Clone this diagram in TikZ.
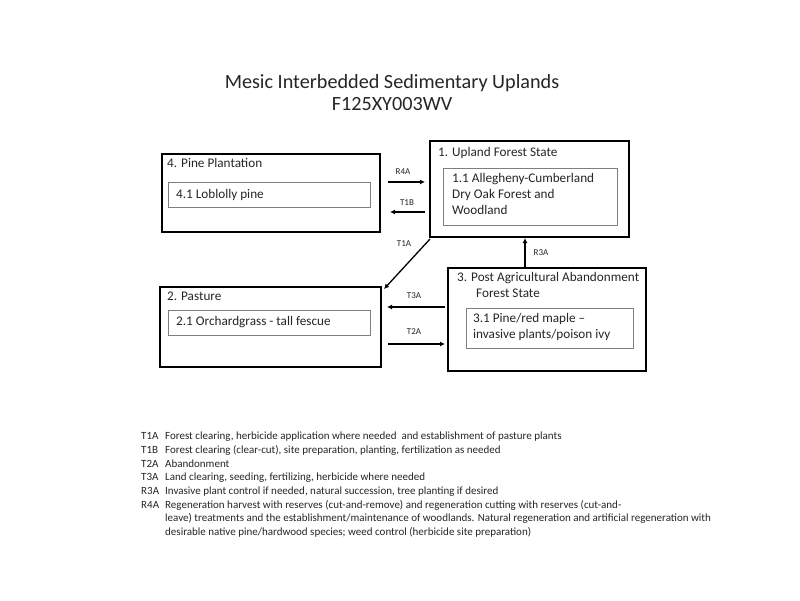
\documentclass[tikz,border=0pt]{standalone}
\usepackage{fontspec}
\setmainfont{Carlito}
\usetikzlibrary{arrows.meta}
\definecolor{txt}{HTML}{262626}
\definecolor{inner}{HTML}{7F7F7F}
\begin{document}
\begin{tikzpicture}[x=1pt,y=-1pt,
  outerbox/.style={draw=black,line width=2pt,rectangle,anchor=north west,inner sep=0pt},
  innerbox/.style={draw=inner,line width=0.9pt,rectangle,anchor=north west,inner sep=0pt},
  boxtitle/.style={anchor=west,inner sep=0pt,text=txt,font=\fontsize{13.2}{16}\selectfont,align=left},
  innertext/.style={anchor=north west,inner sep=0pt,text=txt,font=\fontsize{13.2}{16}\selectfont,align=left},
  arr/.style={line width=1.3pt,-{Latex[length=5pt,width=5pt]}},
  arrlbl/.style={inner sep=0pt,text=txt,font=\fontsize{9}{11}\selectfont}]
\useasboundingbox[fill=white] (0,0) rectangle (800,600);
% title
\node[text=txt,font=\fontsize{20.2}{22.5}\selectfont,align=center] (title) at (392,92.5) {Mesic Interbedded Sedimentary Uplands\\F125XY003WV};
% box 4
\node[outerbox,minimum width=218pt,minimum height=78pt] (b4) at (161,153) {};
\node[boxtitle] (t4) at (167,163) {4. Pine Plantation};
\node[innerbox,minimum width=202pt,minimum height=25pt] (i4) at (168,182) {};
\node[innertext,anchor=west] (it4) at (176,194.5) {4.1 Loblolly pine};
% box 1
\node[outerbox,minimum width=199pt,minimum height=96pt] (b1) at (429,140) {};
\node[boxtitle] (t1) at (438,153) {1. Upland Forest State};
\node[innerbox,minimum width=174pt,minimum height=57pt] (i1) at (443,168) {};
\node[innertext] (it1) at (452,173) {1.1 Allegheny-Cumberland\\Dry Oak Forest and\\Woodland};
% box 2
\node[outerbox,minimum width=221pt,minimum height=80pt] (b2) at (159,286) {};
\node[boxtitle] (t2) at (167,296) {2. Pasture};
\node[innerbox,minimum width=202pt,minimum height=25pt] (i2) at (168,310) {};
\node[innertext,anchor=west] (it2) at (176,322.5) {2.1 Orchardgrass - tall fescue};
% box 3
\node[outerbox,minimum width=198pt,minimum height=103pt] (b3) at (447,267) {};
\node[boxtitle,anchor=north west] (t3) at (457,272) {3. Post Agricultural Abandonment\\\hspace*{19pt}Forest State};
\node[innerbox,minimum width=167pt,minimum height=40pt] (i3) at (466,308) {};
\node[innertext] (it3) at (473,313) {3.1 Pine/red maple –\\invasive plants/poison ivy};
% arrows
\draw[arr] ([xshift=7pt,yshift=-29pt]b4.north east) -- ([xshift=-4pt,yshift=-42pt]b1.north west);
\node[arrlbl] (lr4a) at (403,172) {R4A};
\draw[arr] ([xshift=-4pt,yshift=-72pt]b1.north west) -- ([xshift=9pt,yshift=-59pt]b4.north east);
\node[arrlbl] (lt1b) at (407,203) {T1B};
\draw[arr] ([xshift=1pt,yshift=-1pt]b1.south west) -- ([xshift=2pt,yshift=-3pt]b2.north east);
\node[arrlbl] (lt1a) at (404,244) {T1A};
\draw[arr] (b3.north -| 525,0) -- (b1.south -| 525,0);
\node[arrlbl] (lr3a) at (541,253) {R3A};
\draw[arr] ([xshift=-2pt,yshift=-40pt]b3.north west) -- ([xshift=5pt,yshift=-21pt]b2.north east);
\node[arrlbl] (lt3a) at (414,296) {T3A};
\draw[arr] ([xshift=6pt,yshift=-58pt]b2.north east) -- ([xshift=-2pt,yshift=-77pt]b3.north west);
\node[arrlbl] (lt2a) at (414,332) {T2A};
% legend
\node[anchor=north west,inner sep=0pt,text=txt,font=\fontsize{11}{13.7}\selectfont] (legend) at (141,430) {%
\begin{tabular}{@{}p{18pt}@{\hspace{6pt}}l@{}}
T1A & Forest clearing, herbicide application where needed\ \ and establishment of pasture plants\\
T1B & Forest clearing (clear-cut), site preparation, planting, fertilization as needed\\
T2A & Abandonment\\
T3A & Land clearing, seeding, fertilizing, herbicide where needed\\
R3A & Invasive plant control if needed,\ natural succession, tree planting if desired\\
R4A & Regeneration harvest with reserves (cut-and-remove) and regeneration cutting with reserves (cut-and-\\
 & leave) treatments\ and the establishment/maintenance of woodlands. Natural regeneration and artificial regeneration with\\
 & desirable native pine/hardwood species; weed\ control (herbicide site preparation)
\end{tabular}};
\end{tikzpicture}
\end{document}
